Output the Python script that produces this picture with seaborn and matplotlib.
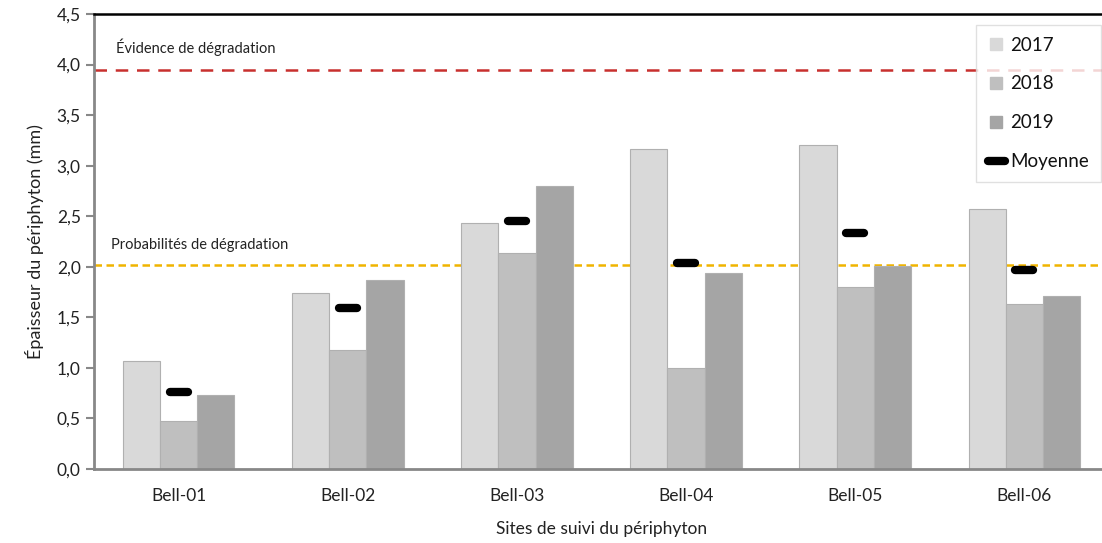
import numpy as np
import pandas as pd
import matplotlib
matplotlib.use("Agg")
import matplotlib.pyplot as plt
from matplotlib.lines import Line2D
from matplotlib.markers import MarkerStyle
from matplotlib.ticker import FixedLocator, FuncFormatter
import seaborn as sns

# Périphyton thickness (mm) per site and year
sites = ["Bell-01", "Bell-02", "Bell-03", "Bell-04", "Bell-05", "Bell-06"]
years = ["2017", "2018", "2019"]
v2017 = [1.07, 1.74, 2.43, 3.16, 3.20, 2.57]
v2018 = [0.47, 1.18, 2.14, 1.00, 1.80, 1.63]
v2019 = [0.73, 1.87, 2.80, 1.94, 2.01, 1.71]
yticks = [0.0, 0.5, 1.0, 1.5, 2.0, 2.5, 3.0, 3.5, 4.0, 4.5]

# Threshold levels
seuil_evidence = 3.95
seuil_proba = 2.02

colors = ["#d9d9d9", "#bfbfbf", "#a5a5a5"]

df = pd.DataFrame({
    "site": sites * 3,
    "annee": [y for y in years for _ in sites],
    "val": v2017 + v2018 + v2019,
})
moyenne = np.mean([v2017, v2018, v2019], axis=0)

sns.set_theme(style="white")
plt.rcParams["font.family"] = ["Lato", "DejaVu Sans"]

fig = plt.figure(figsize=(11.02, 5.43), dpi=100)
ax = fig.add_axes([94 / 1102, 1 - 469 / 543, 1015 / 1102, 455 / 543])

ax.axhline(seuil_evidence, color="#c8302e", lw=1.8, ls=(0, (5, 3.5)), zorder=1)
ax.axhline(seuil_proba, color="#f0b400", lw=1.8, ls=(0, (3, 1.8)), zorder=1)

sns.barplot(data=df, x="site", y="val", hue="annee", order=sites, hue_order=years,
            palette=colors, width=0.66, gap=0, edgecolor="#b0b0b0", linewidth=0.8,
            legend=False, ax=ax, zorder=2)

mean_marker = MarkerStyle("_", capstyle="round")
ax.plot(np.arange(len(sites)), moyenne, ls="none", marker=mean_marker,
        markersize=13, markeredgewidth=6, color="black", zorder=4)

ax.text(-0.37, seuil_evidence + 0.13, "Évidence de dégradation",
        fontsize=10.5, color="#222222", va="bottom", ha="left")
ax.text(-0.40, seuil_proba + 0.13, "Probabilités de dégradation",
        fontsize=10.5, color="#222222", va="bottom", ha="left")

ax.set_xlim(-0.5, len(sites) - 0.5)
ax.set_ylim(0, 4.5)
ax.yaxis.set_major_locator(FixedLocator(yticks))
ax.yaxis.set_major_formatter(FuncFormatter(lambda v, p: f"{v:.1f}".replace(".", ",")))
ax.set_xticks(np.arange(len(sites)))
ax.set_xticklabels(sites)
ax.set_xticks(np.arange(len(sites)) + 0.5, minor=True)
ax.tick_params(axis="x", which="major", length=0, pad=14, labelsize=12.5, labelcolor="#222222")
ax.tick_params(axis="x", which="minor", length=6, width=1.5, color="#888888", direction="out")
ax.tick_params(axis="y", length=6, width=1.5, color="#888888", direction="out",
               left=True, labelsize=12.5, labelcolor="#222222")

for side in ["left", "bottom"]:
    ax.spines[side].set_color("#888888")
    ax.spines[side].set_linewidth(2)
ax.spines["top"].set_color("black")
ax.spines["top"].set_linewidth(1.8)
ax.spines["right"].set_visible(False)

ax.set_xlabel("Sites de suivi du périphyton", fontsize=12.5, color="#222222", labelpad=12)
ax.set_ylabel("Épaisseur du périphyton (mm)", fontsize=13, color="#222222", labelpad=9)

handles = [Line2D([0], [0], ls="none", marker="s", markersize=8, color=c) for c in colors]
handles.append(Line2D([0], [0], color="black", lw=6, solid_capstyle="round"))
leg = ax.legend(handles, years + ["Moyenne"], loc="upper right",
                bbox_to_anchor=(0.992, 0.976), frameon=True, fancybox=False,
                fontsize=13.5, handlelength=0.9, handletextpad=0.3,
                labelspacing=1.17, borderpad=0.62, borderaxespad=0)
leg.get_frame().set_edgecolor("#d9d9d9")
leg.get_frame().set_linewidth(1)
for t in leg.get_texts():
    t.set_color("#111111")

fig.savefig("out.png", dpi=100)
